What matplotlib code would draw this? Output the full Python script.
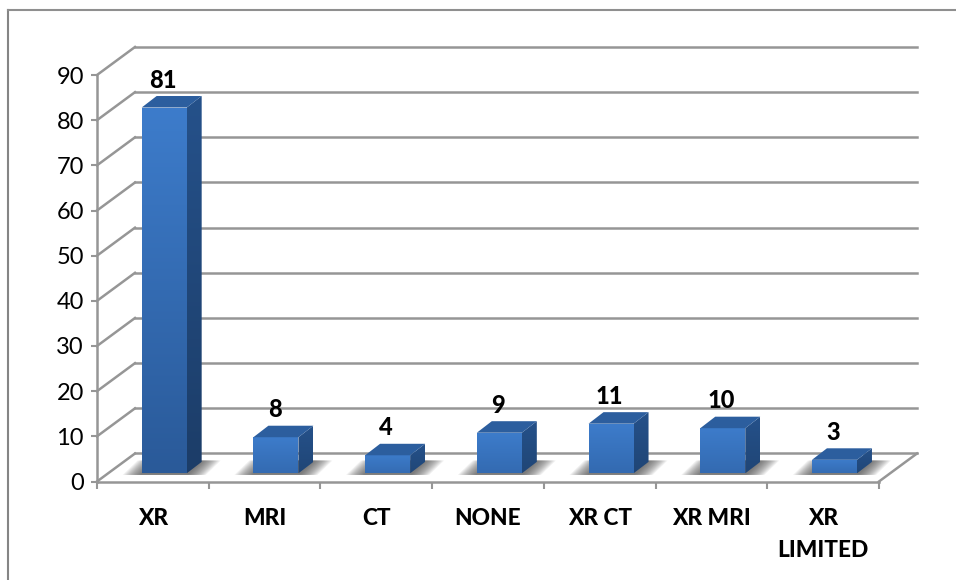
import numpy as np
import matplotlib
matplotlib.use("Agg")
import matplotlib.pyplot as plt
from matplotlib.lines import Line2D
from matplotlib.patches import Polygon

plt.rcParams["font.family"] = ["Lato", "DejaVu Sans"]

categories = ["XR", "MRI", "CT", "NONE", "XR CT", "XR MRI", "XR\nLIMITED"]
counts = [81, 8, 4, 9, 11, 10, 3]
y_ticks = [0, 10, 20, 30, 40, 50, 60, 70, 80, 90]

GRID = "#969696"

# depth of the floor and of each bar, in data units
floor_dx, floor_dy = 0.34, 6.2
bar_left, bar_w = 0.40, 0.403
bar_dx, bar_dy = 0.134, 2.55
bar_base = 1.8


def gradient_face(ax, pts, top, bottom, z):
    # vertical colour ramp clipped to a polygon
    pts = np.array(pts)
    c1 = np.array(matplotlib.colors.to_rgb(top))
    c2 = np.array(matplotlib.colors.to_rgb(bottom))
    t = np.linspace(0, 1, 64)[:, None, None]
    img = c1[None, None, :] * (1 - t) + c2[None, None, :] * t
    im = ax.imshow(img, extent=(pts[:, 0].min(), pts[:, 0].max(), pts[:, 1].min(), pts[:, 1].max()),
                   aspect="auto", origin="upper", zorder=z, interpolation="bilinear")
    im.set_clip_path(Polygon(pts, transform=ax.transData))


fig = plt.figure(figsize=(9.56, 5.8), dpi=100)
ax = fig.add_axes([97 / 956, (580 - 481.5) / 580, 782 / 956, 406.5 / 580])
ax.patch.set_alpha(0)

# outer chart frame
fig.add_artist(Line2D([8 / 956, 8 / 956], [0, 570 / 580], color="#858585", lw=1.5))
fig.add_artist(Line2D([7.5 / 956, 1], [570 / 580, 570 / 580], color="#8f8f8f", lw=1.5))

n = len(categories)

# back wall lines and the diagonals on the side wall
for v in y_ticks:
    ax.plot([floor_dx, n + floor_dx], [v + floor_dy, v + floor_dy], color=GRID, lw=1.8, zorder=1, clip_on=False)
    ax.plot([0, floor_dx], [v, v + floor_dy], color=GRID, lw=1.8, zorder=1, clip_on=False)
ax.plot([n, n + floor_dx], [0, floor_dy], color=GRID, lw=1.8, zorder=1, clip_on=False)

for i, v in enumerate(counts):
    x0 = i + bar_left
    x1 = x0 + bar_w
    top = bar_base + v

    # soft floor shadow, built up from stacked translucent shapes
    for k in range(14):
        g = 0.17 * (1 - k / 14)
        shadow = Polygon([(x0 - g, bar_base - 0.35), (x1 + g, bar_base - 0.35),
                          (x1 + bar_dx + g, bar_base + bar_dy + 0.3), (x0 + bar_dx - g, bar_base + bar_dy + 0.3)],
                         closed=True, fc="#404040", ec="none", alpha=0.075, zorder=2, clip_on=False)
        ax.add_patch(shadow)

    front = [(x0, bar_base), (x1, bar_base), (x1, top), (x0, top)]
    side = [(x1, bar_base), (x1 + bar_dx, bar_base + bar_dy), (x1 + bar_dx, top + bar_dy), (x1, top)]
    roof = [(x0, top), (x1, top), (x1 + bar_dx, top + bar_dy), (x0 + bar_dx, top + bar_dy)]

    # taller bars run further down the ramp
    shade = min(1.0, 0.45 + v / 81 * 0.55)
    low_front = tuple(np.array((0.239, 0.486, 0.796)) * (1 - shade) + np.array((0.165, 0.353, 0.600)) * shade)
    low_side = tuple(np.array((0.141, 0.310, 0.522)) * (1 - shade) + np.array((0.110, 0.239, 0.408)) * shade)
    gradient_face(ax, front, "#3d7ccb", low_front, 3)
    gradient_face(ax, side, "#25518a", low_side, 3)
    ax.add_patch(Polygon(roof, closed=True, fc="#2c5e9e", ec="none", zorder=3, clip_on=False))

    ax.annotate(str(v), xy=((x0 + x1) / 2, top), xytext=(-1, 19.8), textcoords="offset points",
                ha="center", va="center", fontsize=17, fontweight=900, color="black",
                annotation_clip=False, zorder=5)

ax.set_xlim(0, n)
ax.set_ylim(0, 90)

for side_name in ["top", "right"]:
    ax.spines[side_name].set_visible(False)
for side_name in ["left", "bottom"]:
    ax.spines[side_name].set_color(GRID)
    ax.spines[side_name].set_linewidth(1.8)
    ax.spines[side_name].set_zorder(4)

ax.set_yticks(y_ticks)
ax.tick_params(axis="y", length=4.5, width=1.5, color=GRID, labelsize=17, pad=5, labelcolor="black")
ax.set_xticks(np.arange(n + 1))
ax.set_xticklabels([])
ax.tick_params(axis="x", which="major", length=5, width=1.5, color=GRID)
ax.set_xticks(np.arange(n) + 0.5, minor=True)
ax.set_xticklabels(categories, minor=True, fontsize=16.3, fontweight=900, linespacing=1.65)
ax.tick_params(axis="x", which="minor", length=0, pad=19, labelcolor="black")

fig.savefig("out.png", dpi=100)
